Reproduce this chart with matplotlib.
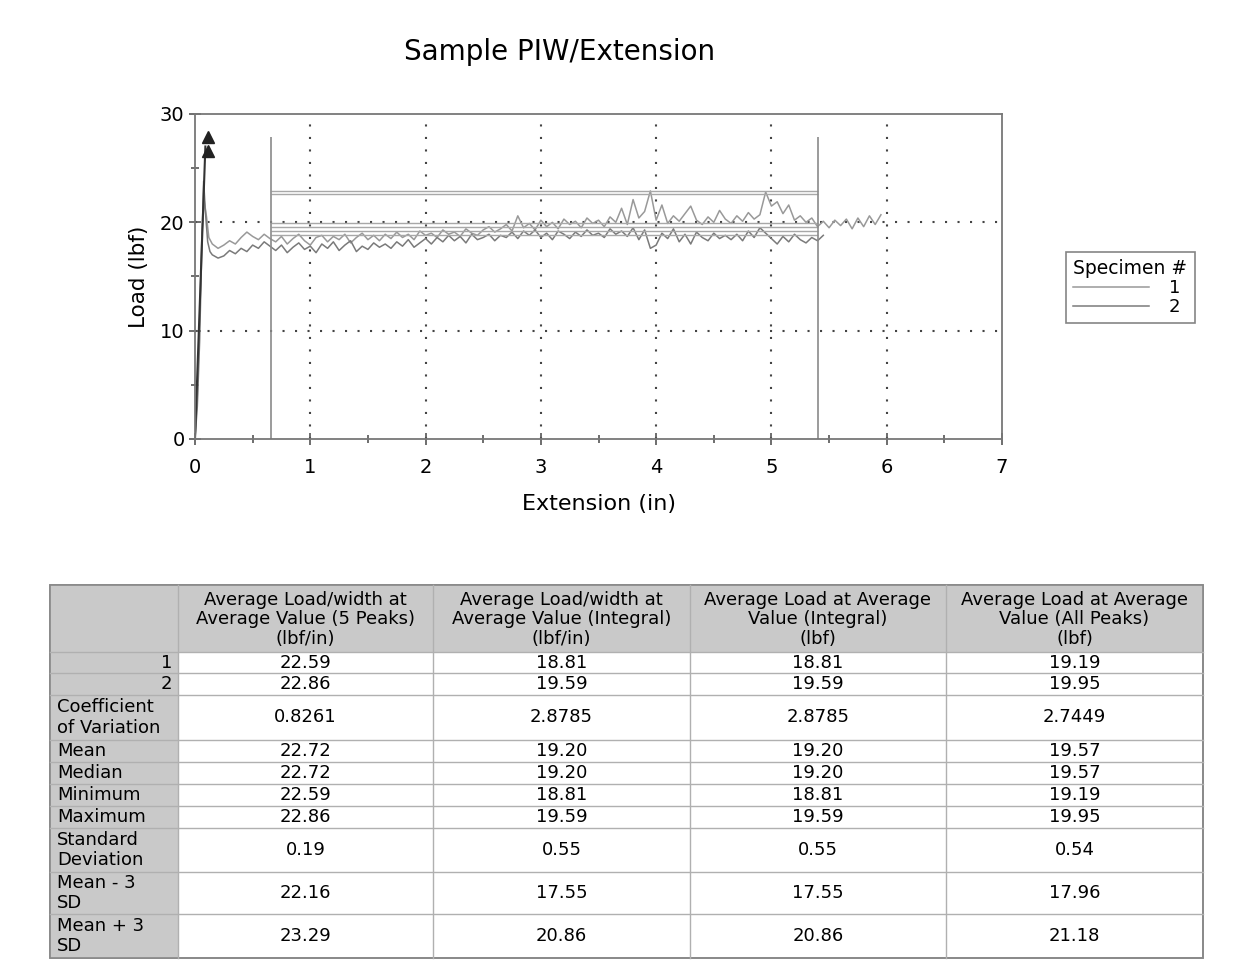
import numpy as np
import matplotlib
matplotlib.use('Agg')
import matplotlib.pyplot as plt
from matplotlib.patches import Rectangle

plt.rcParams['font.family'] = ['DejaVu Sans']

# ---- curve data ----
rise_x1 = [0.0, 0.02, 0.04, 0.06, 0.08, 0.10, 0.12]
rise_y1 = [0.0, 4.0, 11.0, 19.0, 22.0, 20.5, 18.6]
rise_x2 = [0.0, 0.02, 0.04, 0.06, 0.075, 0.09, 0.11, 0.13]
rise_y2 = [0.0, 3.0, 9.0, 18.0, 23.8, 21.0, 18.2, 17.3]

load1 = [18.0, 17.6, 17.9, 18.3, 18.0, 18.6, 19.1, 18.7, 18.4, 18.9, 18.5,
         18.2, 18.7, 18.0, 18.5, 18.9, 18.3, 17.9, 18.6, 18.8, 18.2, 18.7, 18.4, 18.9, 18.1, 18.6, 19.0, 18.4, 18.8, 18.3, 18.9,
         18.5, 19.1, 18.6, 18.9, 18.4, 19.2, 18.8, 19.0, 18.6, 19.3, 18.9, 19.1, 18.7, 19.4, 19.0, 18.8, 19.3, 19.6, 19.1, 19.4,
         19.8, 19.2, 20.6, 19.5, 19.9, 19.3, 20.2, 19.6, 20.0, 19.4, 20.3, 19.8, 20.1, 19.5, 20.4, 19.9, 20.2, 19.6, 20.5, 20.0,
         21.3, 19.8, 22.1, 20.4, 21.0, 22.9, 20.2, 21.6, 19.9, 20.6, 20.1, 20.8, 21.5, 20.2, 19.8, 20.5, 20.0, 21.1, 20.3, 19.9,
         20.6, 20.1, 20.9, 20.3, 20.7, 22.8, 21.5, 21.9, 20.8, 21.6, 20.2, 20.6, 20.0, 20.4, 19.6, 20.1, 19.5, 20.2, 19.7, 20.3,
         19.4, 20.4, 19.6, 20.6, 19.8, 20.7]
load2 = [17.0, 16.7, 16.9, 17.4, 17.1, 17.6, 17.3, 17.9, 17.6, 18.2, 17.8,
         17.4, 17.9, 17.2, 17.7, 18.1, 17.5, 17.8, 17.2, 18.0, 17.6, 18.2, 17.4, 17.9, 18.3, 17.3, 17.8, 17.5, 18.1, 17.7, 18.0,
         17.6, 18.2, 17.8, 18.4, 17.7, 18.1, 18.5, 18.0, 18.6, 18.2, 18.8, 18.3, 18.7, 18.1, 18.9, 18.4, 18.6, 18.9, 18.3, 18.8,
         18.6, 19.1, 18.5, 19.2, 18.8, 19.3, 18.6, 19.0, 18.4, 19.2, 18.9, 18.5, 19.1, 18.7, 19.3, 18.8, 19.0, 18.6, 19.4, 18.9,
         19.2, 18.7, 19.5, 18.4, 19.3, 17.6, 17.9, 19.0, 18.5, 19.4, 18.2, 18.9, 18.0, 19.1, 18.6, 18.3, 19.0, 18.5, 18.8, 18.4,
         18.9, 18.3, 19.2, 18.6, 19.5, 19.0, 18.5, 18.0, 18.7, 18.2, 18.9, 18.4, 18.1, 18.6, 18.3, 18.8]
ext1 = rise_x1 + list(np.linspace(0.15, 5.95, len(load1)))
ext2 = rise_x2 + list(np.linspace(0.15, 5.45, len(load2)))

# break marker
break_x = [0.0, 0.09]
break_y = [0.0, 27.0]
arrow_x = [0.11, 0.11]
arrow_y = [27.9, 26.6]

# analysis window
win_start, win_end, win_top = 0.66, 5.40, 27.9

# ---- table data ----
col_heads = ['Average Load/width at\nAverage Value (5 Peaks)\n(lbf/in)',
             'Average Load/width at\nAverage Value (Integral)\n(lbf/in)',
             'Average Load at Average\nValue (Integral)\n(lbf)',
             'Average Load at Average\nValue (All Peaks)\n(lbf)']
row_labels = ['1', '2', 'Coefficient\nof Variation', 'Mean', 'Median', 'Minimum',
              'Maximum', 'Standard\nDeviation', 'Mean - 3\nSD', 'Mean + 3\nSD']
peaks5 = ['22.59', '22.86', '0.8261', '22.72', '22.72', '22.59', '22.86', '0.19', '22.16', '23.29']
integ_w = ['18.81', '19.59', '2.8785', '19.20', '19.20', '18.81', '19.59', '0.55', '17.55', '20.86']
integ = ['18.81', '19.59', '2.8785', '19.20', '19.20', '18.81', '19.59', '0.55', '17.55', '20.86']
allpk = ['19.19', '19.95', '2.7449', '19.57', '19.57', '19.19', '19.95', '0.54', '17.96', '21.18']
avg_lines = [float(v) for v in peaks5[:2] + integ[:2] + allpk[:2]]

W, H = 1251, 967
fig = plt.figure(figsize=(W / 100, H / 100), dpi=100)
ax = fig.add_axes([195 / W, 1 - 439 / H, (1002 - 195) / W, (439 - 114) / H])

c1 = '#999999'
c2 = '#7a7a7a'
ax.plot(ext1, rise_y1 + load1, color=c1, lw=1.1, label='1')
ax.plot(ext2, rise_y2 + load2, color=c2, lw=1.1, label='2')
for v in avg_lines:
    ax.hlines(v, win_start, win_end, color='#a8a8a8', lw=1.0)
ax.vlines([win_start, win_end], 0, win_top, color='#8a8a8a', lw=1.2)
ax.plot(break_x, break_y, color='#333333', lw=1.5)
ax.plot(arrow_x, arrow_y, ls='none', marker='^', ms=9, color='#222222')

for g in range(1, 7):
    ax.axvline(g, color='#444444', lw=1.5, ls=(0, (1, 5)), zorder=0)
for g in (10, 20):
    ax.axhline(g, color='#444444', lw=1.5, ls=(0, (1, 5)), zorder=0)

ax.set_xlim(0, 7)
ax.set_ylim(0, 30)
ax.set_xticks(range(0, 8))
ax.set_yticks([0, 10, 20, 30])
ax.set_xticks(np.arange(0.5, 7, 1.0), minor=True)
ax.set_yticks([5, 15, 25], minor=True)
ax.tick_params(which='both', direction='inout', color='#555555', labelsize=14, width=1.2)
ax.tick_params(which='major', length=8)
ax.tick_params(which='minor', length=6)
ax.tick_params(axis='x', pad=10)
for s in ax.spines.values():
    s.set_color('#777777')
    s.set_linewidth(1.3)
ax.set_xlabel('Extension (in)', fontsize=16, labelpad=12)
ax.set_ylabel('Load (lbf)', fontsize=15.5, labelpad=8)
fig.text(560 / W, 1 - 52 / H, 'Sample PIW/Extension', fontsize=20, ha='center', va='center')

leg = ax.legend(title='Specimen #', loc='upper left', bbox_to_anchor=(1057 / W, 1 - 243 / H),
                bbox_transform=fig.transFigure, fontsize=13, title_fontsize=13.5, handlelength=4.2,
                markerfirst=True, frameon=True, fancybox=False, borderpad=0.4, labelspacing=0.05,
                handletextpad=1.1, alignment='left')
leg.get_frame().set_edgecolor('#666666')
leg.get_frame().set_linewidth(1.2)

# ---- table ----
tab = fig.add_axes([0, 0, 1, 1])
tab.set_xlim(0, W)
tab.set_ylim(H, 0)
tab.axis('off')
xs = [50, 178, 433, 690, 946, 1203]
ys = [585, 652, 673, 695, 740, 762, 784, 806, 828, 872, 914, 958]
shade = '#c9c9c9'
tab.add_patch(Rectangle((xs[0], ys[0]), xs[-1] - xs[0], ys[-1] - ys[0], facecolor='white', edgecolor='#888888', lw=1.2))
tab.add_patch(Rectangle((xs[0], ys[0]), xs[-1] - xs[0], ys[1] - ys[0], facecolor=shade, edgecolor='none'))
tab.add_patch(Rectangle((xs[0], ys[0]), xs[1] - xs[0], ys[-1] - ys[0], facecolor=shade, edgecolor='none'))
for y in ys[1:-1]:
    tab.plot([xs[0], xs[-1]], [y, y], color='#b0b0b0', lw=1.0)
for x in xs[1:-1]:
    tab.plot([x, x], [ys[0], ys[-1]], color='#b0b0b0', lw=1.0)
tab.add_patch(Rectangle((xs[0], ys[0]), xs[-1] - xs[0], ys[-1] - ys[0], facecolor='none', edgecolor='#888888', lw=1.2))

fs = 13.0
for j, head in enumerate(col_heads):
    tab.text((xs[j + 1] + xs[j + 2]) / 2, (ys[0] + ys[1]) / 2 + 1, head, ha='center', va='center',
             fontsize=fs, linespacing=1.14)
cols = [peaks5, integ_w, integ, allpk]
for i, lab in enumerate(row_labels):
    yc = (ys[i + 1] + ys[i + 2]) / 2
    if lab in ('1', '2'):
        tab.text(xs[1] - 6, yc, lab, ha='right', va='center', fontsize=fs)
    else:
        tab.text(xs[0] + 7, yc, lab, ha='left', va='center', fontsize=fs, linespacing=1.17)
    for j, col in enumerate(cols):
        tab.text((xs[j + 1] + xs[j + 2]) / 2, yc, col[i], ha='center', va='center', fontsize=fs)

fig.savefig('out.png', dpi=100)
